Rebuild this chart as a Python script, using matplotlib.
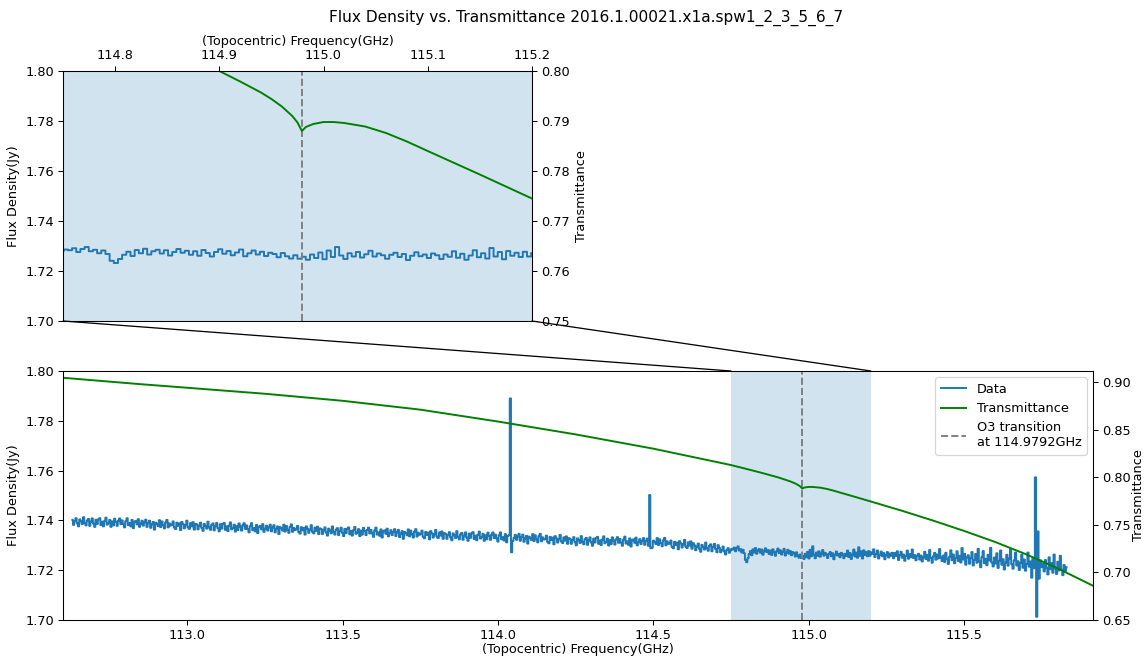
import numpy as np
import matplotlib
matplotlib.use("Agg")
import matplotlib.pyplot as plt
from matplotlib.patches import ConnectionPatch

# spectral channels (uniform grid) and measured flux density in Jy
chan_start, chan_stop, n_chan = 112.63, 115.83, 800
flux = [
    1.7402, 1.7382, 1.7397, 1.7409, 1.7388, 1.7376, 1.7404, 1.7396, 1.7385, 1.7413, 1.7390, 1.7380, 1.7400, 1.7406, 1.7378, 1.7395, 1.7408, 1.7387, 1.7374, 1.7403,
    1.7386, 1.7404, 1.7409, 1.7381, 1.7395, 1.7376, 1.7398, 1.7411, 1.7383, 1.7389, 1.7402, 1.7374, 1.7396, 1.7380, 1.7407, 1.7394, 1.7378, 1.7399, 1.7408, 1.7385,
    1.7400, 1.7385, 1.7372, 1.7397, 1.7409, 1.7381, 1.7390, 1.7376, 1.7402, 1.7369, 1.7394, 1.7398, 1.7384, 1.7405, 1.7374, 1.7387, 1.7399, 1.7379, 1.7392, 1.7403,
    1.7374, 1.7389, 1.7399, 1.7370, 1.7384, 1.7394, 1.7363, 1.7391, 1.7386, 1.7377, 1.7401, 1.7373, 1.7396, 1.7381, 1.7368, 1.7392, 1.7402, 1.7372, 1.7388, 1.7379,
    1.7383, 1.7396, 1.7371, 1.7365, 1.7391, 1.7378, 1.7388, 1.7361, 1.7394, 1.7385, 1.7368, 1.7381, 1.7399, 1.7372, 1.7366, 1.7389, 1.7376, 1.7393, 1.7363, 1.7386,
    1.7384, 1.7364, 1.7379, 1.7391, 1.7370, 1.7358, 1.7386, 1.7378, 1.7367, 1.7395, 1.7372, 1.7362, 1.7382, 1.7388, 1.7360, 1.7377, 1.7390, 1.7369, 1.7356, 1.7385,
    1.7367, 1.7385, 1.7390, 1.7362, 1.7376, 1.7357, 1.7379, 1.7392, 1.7364, 1.7370, 1.7383, 1.7355, 1.7377, 1.7361, 1.7388, 1.7375, 1.7359, 1.7380, 1.7389, 1.7366,
    1.7380, 1.7365, 1.7352, 1.7377, 1.7389, 1.7361, 1.7370, 1.7356, 1.7382, 1.7349, 1.7374, 1.7378, 1.7364, 1.7385, 1.7354, 1.7367, 1.7379, 1.7359, 1.7372, 1.7383,
    1.7356, 1.7371, 1.7381, 1.7352, 1.7366, 1.7376, 1.7345, 1.7373, 1.7368, 1.7359, 1.7383, 1.7355, 1.7378, 1.7363, 1.7350, 1.7374, 1.7384, 1.7354, 1.7370, 1.7361,
    1.7365, 1.7378, 1.7353, 1.7347, 1.7373, 1.7360, 1.7370, 1.7343, 1.7376, 1.7367, 1.7350, 1.7363, 1.7381, 1.7354, 1.7348, 1.7371, 1.7358, 1.7375, 1.7345, 1.7368,
    1.7365, 1.7345, 1.7360, 1.7372, 1.7351, 1.7339, 1.7367, 1.7359, 1.7348, 1.7376, 1.7353, 1.7343, 1.7363, 1.7369, 1.7341, 1.7358, 1.7371, 1.7350, 1.7337, 1.7366,
    1.7349, 1.7367, 1.7372, 1.7344, 1.7358, 1.7339, 1.7361, 1.7374, 1.7346, 1.7352, 1.7365, 1.7337, 1.7359, 1.7343, 1.7370, 1.7357, 1.7341, 1.7362, 1.7371, 1.7348,
    1.7362, 1.7347, 1.7334, 1.7359, 1.7371, 1.7343, 1.7352, 1.7338, 1.7364, 1.7331, 1.7356, 1.7360, 1.7346, 1.7367, 1.7336, 1.7349, 1.7361, 1.7341, 1.7354, 1.7365,
    1.7337, 1.7352, 1.7362, 1.7333, 1.7347, 1.7357, 1.7326, 1.7354, 1.7349, 1.7340, 1.7364, 1.7336, 1.7359, 1.7344, 1.7331, 1.7355, 1.7365, 1.7335, 1.7351, 1.7342,
    1.7346, 1.7359, 1.7334, 1.7328, 1.7354, 1.7341, 1.7351, 1.7324, 1.7357, 1.7348, 1.7331, 1.7344, 1.7362, 1.7335, 1.7329, 1.7352, 1.7339, 1.7356, 1.7326, 1.7349,
    1.7346, 1.7326, 1.7341, 1.7353, 1.7332, 1.7320, 1.7348, 1.7340, 1.7329, 1.7357, 1.7334, 1.7324, 1.7344, 1.7350, 1.7322, 1.7339, 1.7352, 1.7331, 1.7318, 1.7347,
    1.7330, 1.7348, 1.7353, 1.7325, 1.7339, 1.7320, 1.7342, 1.7355, 1.7327, 1.7333, 1.7346, 1.7318, 1.7340, 1.7324, 1.7351, 1.7338, 1.7322, 1.7343, 1.7352, 1.7329,
    1.7343, 1.7328, 1.7315, 1.7340, 1.7352, 1.7324, 1.7333, 1.7319, 1.7345, 1.7312, 1.7337, 1.7341, 1.7890, 1.7272, 1.7317, 1.7330, 1.7342, 1.7322, 1.7335, 1.7346,
    1.7318, 1.7333, 1.7343, 1.7314, 1.7328, 1.7338, 1.7307, 1.7335, 1.7330, 1.7321, 1.7345, 1.7317, 1.7340, 1.7325, 1.7312, 1.7336, 1.7346, 1.7316, 1.7332, 1.7323,
    1.7326, 1.7339, 1.7314, 1.7308, 1.7334, 1.7321, 1.7331, 1.7304, 1.7337, 1.7328, 1.7311, 1.7324, 1.7342, 1.7315, 1.7309, 1.7332, 1.7319, 1.7336, 1.7306, 1.7329,
    1.7326, 1.7306, 1.7321, 1.7333, 1.7312, 1.7300, 1.7328, 1.7320, 1.7309, 1.7337, 1.7314, 1.7304, 1.7324, 1.7330, 1.7302, 1.7319, 1.7332, 1.7311, 1.7298, 1.7327,
    1.7311, 1.7329, 1.7334, 1.7306, 1.7320, 1.7301, 1.7323, 1.7336, 1.7308, 1.7314, 1.7327, 1.7299, 1.7321, 1.7305, 1.7332, 1.7319, 1.7303, 1.7324, 1.7333, 1.7310,
    1.7326, 1.7311, 1.7298, 1.7323, 1.7335, 1.7307, 1.7316, 1.7302, 1.7328, 1.7295, 1.7320, 1.7324, 1.7310, 1.7331, 1.7300, 1.7313, 1.7325, 1.7305, 1.7318, 1.7329,
    1.7302, 1.7317, 1.7327, 1.7298, 1.7502, 1.7288, 1.7291, 1.7319, 1.7314, 1.7305, 1.7329, 1.7301, 1.7324, 1.7309, 1.7296, 1.7320, 1.7330, 1.7300, 1.7316, 1.7307,
    1.7306, 1.7319, 1.7294, 1.7288, 1.7314, 1.7301, 1.7311, 1.7284, 1.7317, 1.7308, 1.7291, 1.7304, 1.7322, 1.7295, 1.7289, 1.7312, 1.7299, 1.7316, 1.7286, 1.7309,
    1.7300, 1.7280, 1.7295, 1.7307, 1.7286, 1.7274, 1.7302, 1.7294, 1.7283, 1.7311, 1.7288, 1.7278, 1.7298, 1.7304, 1.7276, 1.7293, 1.7306, 1.7285, 1.7272, 1.7301,
    1.7290, 1.7272, 1.7280, 1.7295, 1.7275, 1.7263, 1.7281, 1.7289, 1.7270, 1.7279, 1.7286, 1.7283, 1.7291, 1.7276, 1.7288, 1.7296, 1.7279, 1.7285, 1.7271, 1.7282,
    1.7268, 1.7241, 1.7232, 1.7248, 1.7265, 1.7277, 1.7260, 1.7284, 1.7271, 1.7289, 1.7266, 1.7279, 1.7285, 1.7270, 1.7283, 1.7262, 1.7276, 1.7288, 1.7273, 1.7281,
    1.7265, 1.7279, 1.7261, 1.7284, 1.7272, 1.7258, 1.7276, 1.7287, 1.7269, 1.7280, 1.7263, 1.7274, 1.7286, 1.7259, 1.7271, 1.7282, 1.7266, 1.7277, 1.7260, 1.7273,
    1.7268, 1.7255, 1.7272, 1.7259, 1.7250, 1.7263, 1.7249, 1.7257, 1.7245, 1.7266, 1.7252, 1.7274, 1.7247, 1.7282, 1.7256, 1.7296, 1.7262, 1.7248, 1.7271, 1.7258,
    1.7276, 1.7254, 1.7267, 1.7281, 1.7258, 1.7270, 1.7263, 1.7249, 1.7265, 1.7273, 1.7256, 1.7268, 1.7244, 1.7261, 1.7275, 1.7259, 1.7266, 1.7252, 1.7270, 1.7263,
    1.7248, 1.7266, 1.7257, 1.7279, 1.7253, 1.7269, 1.7245, 1.7262, 1.7283, 1.7255, 1.7271, 1.7250, 1.7292, 1.7258, 1.7276, 1.7247, 1.7280, 1.7261, 1.7273, 1.7256,
    1.7277, 1.7258, 1.7272, 1.7265, 1.7284, 1.7253, 1.7266, 1.7279, 1.7247, 1.7262, 1.7275, 1.7256, 1.7269, 1.7244, 1.7260, 1.7273, 1.7251, 1.7267, 1.7258, 1.7270,
    1.7248, 1.7269, 1.7257, 1.7276, 1.7241, 1.7260, 1.7274, 1.7250, 1.7263, 1.7238, 1.7257, 1.7279, 1.7246, 1.7265, 1.7252, 1.7283, 1.7249, 1.7261, 1.7240, 1.7258,
    1.7266, 1.7243, 1.7259, 1.7235, 1.7252, 1.7274, 1.7245, 1.7262, 1.7238, 1.7281, 1.7249, 1.7230, 1.7256, 1.7270, 1.7242, 1.7263, 1.7247, 1.7285, 1.7251, 1.7237,
    1.7259, 1.7233, 1.7270, 1.7246, 1.7225, 1.7254, 1.7280, 1.7240, 1.7263, 1.7228, 1.7249, 1.7276, 1.7237, 1.7258, 1.7231, 1.7289, 1.7243, 1.7266, 1.7222, 1.7251,
    1.7260, 1.7226, 1.7248, 1.7273, 1.7219, 1.7241, 1.7265, 1.7230, 1.7286, 1.7235, 1.7212, 1.7252, 1.7277, 1.7228, 1.7246, 1.7220, 1.7262, 1.7239, 1.7290, 1.7231,
    1.7215, 1.7251, 1.7227, 1.7268, 1.7209, 1.7238, 1.7279, 1.7222, 1.7244, 1.7203, 1.7230, 1.7262, 1.7218, 1.7247, 1.7285, 1.7224, 1.7206, 1.7240, 1.7271, 1.7219,
    1.7236, 1.7201, 1.7229, 1.7262, 1.7210, 1.7243, 1.7198, 1.7225, 1.7271, 1.7214, 1.7235, 1.7170, 1.7249, 1.7208, 1.7573, 1.7013, 1.7356, 1.7166, 1.7240, 1.7212,
    1.7226, 1.7195, 1.7241, 1.7210, 1.7183, 1.7252, 1.7204, 1.7229, 1.7190, 1.7263, 1.7207, 1.7185, 1.7234, 1.7199, 1.7258, 1.7202, 1.7180, 1.7221, 1.7196, 1.7212,
]

# atmospheric transmittance model
trans_freq = [112.60, 112.84, 113.00, 113.25, 113.50, 113.75, 114.00, 114.25, 114.50,
              114.75, 114.80, 114.85, 114.90, 114.92, 114.94, 114.95, 114.96, 114.97,
              114.975, 114.9792, 114.983, 114.99, 115.00, 115.01, 115.02, 115.04,
              115.06, 115.08, 115.10, 115.15, 115.20, 115.30, 115.40, 115.50,
              115.60, 115.70, 115.80, 115.915]
trans = [0.9045, 0.8980, 0.8940, 0.8877, 0.8803, 0.8710, 0.8585, 0.8450, 0.8300,
         0.8128, 0.8087, 0.8045, 0.8000, 0.7979, 0.7957, 0.7944, 0.7929, 0.7910,
         0.7897, 0.7880, 0.7888, 0.7894, 0.7898, 0.7898, 0.7896, 0.7889,
         0.7876, 0.7859, 0.7840, 0.7793, 0.7745, 0.7648, 0.7545, 0.7436,
         0.7320, 0.7190, 0.7045, 0.6860]

o3_freq = 114.9792
zoom_lo, zoom_hi = 114.75, 115.2

freq = np.linspace(chan_start, chan_stop, n_chan)

DPI = 92.6
fig = plt.figure(figsize=(1144 / DPI, 657 / DPI), dpi=DPI)
fig.suptitle("Flux Density vs. Transmittance 2016.1.00021.x1a.spw1_2_3_5_6_7",
             x=0.512, y=0.985, fontsize=12)

# zoomed panel
ax_top = fig.add_axes([0.0551, 0.5114, 0.4099, 0.3805])
ax_top.axvspan(zoom_lo, zoom_hi, color="C0", alpha=0.2, lw=0)
ax_top.plot(freq, flux, color="C0", drawstyle="steps-mid")
ax_top.axvline(o3_freq, color="gray", ls="--")
ax_top.set_xlim(zoom_lo, zoom_hi)
ax_top.set_ylim(1.70, 1.80)
ax_top.set_yticks(np.arange(1.70, 1.801, 0.02))
ax_top.xaxis.tick_top()
ax_top.xaxis.set_label_position("top")
ax_top.set_xlabel("(Topocentric) Frequency(GHz)", labelpad=3)
ax_top.set_ylabel("Flux Density(Jy)")
ax_top_t = ax_top.twinx()
ax_top_t.plot(trans_freq, trans, color="green")
ax_top_t.set_ylim(0.75, 0.80)
ax_top_t.set_ylabel("Transmittance")

# full spectrum
ax = fig.add_axes([0.0551, 0.0563, 0.9003, 0.3790])
ax.axvspan(zoom_lo, zoom_hi, color="C0", alpha=0.2, lw=0)
l1, = ax.plot(freq, flux, color="C0", drawstyle="steps-mid", label="Data")
l3 = ax.axvline(o3_freq, color="gray", ls="--",
                label="O3 transition\nat %.4fGHz" % o3_freq)
ax.set_xlim(112.60, 115.915)
ax.set_ylim(1.70, 1.80)
ax.set_yticks(np.arange(1.70, 1.801, 0.02))
ax.set_xlabel("(Topocentric) Frequency(GHz)", labelpad=1)
ax.set_ylabel("Flux Density(Jy)")
ax_t = ax.twinx()
l2, = ax_t.plot(trans_freq, trans, color="green", label="Transmittance")
ax_t.set_ylim(0.65, 0.9116)
ax_t.set_yticks([0.65, 0.70, 0.75, 0.80, 0.85, 0.90])
ax_t.set_ylabel("Transmittance", labelpad=1)
ax_t.legend([l1, l2, l3], [l1.get_label(), l2.get_label(), l3.get_label()],
            loc="upper right")

# lines joining the zoom window to the shaded band
for xv in (zoom_lo, zoom_hi):
    con = ConnectionPatch(xyA=(xv, 1.70), coordsA=ax_top.transData,
                          xyB=(xv, 1.80), coordsB=ax.transData,
                          color="black", lw=1)
    fig.add_artist(con)

fig.savefig("out.png", dpi=DPI)
